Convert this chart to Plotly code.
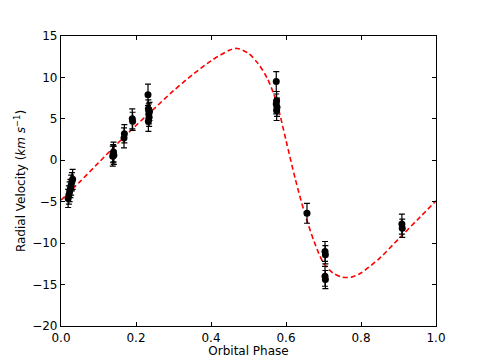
import plotly.graph_objects as go

# Observed radial velocities (km/s) folded on orbital phase
phase = [0.019, 0.021, 0.023, 0.025, 0.027, 0.029, 0.031,
         0.138, 0.139, 0.140, 0.141,
         0.168, 0.169,
         0.190, 0.191,
         0.232, 0.233, 0.234, 0.235, 0.233, 0.236,
         0.574, 0.575, 0.574, 0.576, 0.575,
         0.656,
         0.704, 0.705, 0.704, 0.705,
         0.909, 0.910]
rv = [-4.6, -4.2, -3.8, -3.4, -3.0, -2.6, -2.3,
      0.5, 0.8, 1.0, 0.6,
      2.7, 3.2,
      5.0, 4.7,
      7.9, 6.2, 5.6, 5.2, 4.7, 5.9,
      9.5, 7.2, 6.8, 6.4, 6.0,
      -6.4,
      -11.0, -11.4, -14.0, -14.4,
      -7.7, -8.2]
rv_err = [1.1, 1.1, 1.2, 1.1, 1.2, 1.1, 1.2,
          1.2, 1.1, 1.2, 1.1,
          1.2, 1.1,
          1.2, 1.1,
          1.3, 1.1, 1.2, 1.1, 1.2, 1.1,
          1.2, 1.1, 1.2, 1.1, 1.2,
          1.2,
          1.2, 1.1, 1.2, 1.1,
          1.2, 1.1]

# Orbit model curve
model_phase = [0.00, 0.05, 0.10, 0.15, 0.20, 0.25, 0.30, 0.35, 0.40, 0.45,
               0.47, 0.50, 0.525, 0.55, 0.575, 0.60, 0.625, 0.65, 0.675,
               0.70, 0.725, 0.75, 0.775, 0.80, 0.85, 0.90, 0.95, 1.00]
model_rv = [-4.8, -2.6, -0.3, 2.0, 4.2, 6.3, 8.4, 10.3, 12.0, 13.3,
            13.5, 12.9, 11.7, 9.9, 7.0, 2.4, -2.3, -6.4, -9.8,
            -12.4, -13.6, -14.1, -14.1, -13.6, -11.8, -9.5, -7.2, -4.9]

x_ticks = [0.0, 0.2, 0.4, 0.6, 0.8, 1.0]
y_ticks = [15, 10, 5, 0, -5, -10, -15, -20]

fig = go.Figure()

fig.add_trace(go.Scatter(
    x=model_phase, y=model_rv,
    mode='lines',
    line=dict(color='red', width=1.6, dash='5px,3px', shape='spline', smoothing=0.8),
    hoverinfo='skip'
))

fig.add_trace(go.Scatter(
    x=phase, y=rv,
    mode='markers',
    marker=dict(color='black', size=7),
    error_y=dict(type='data', array=rv_err, color='black', thickness=1.2, width=3)
))

axis_style = dict(
    showline=True, linecolor='black', linewidth=1.2, mirror='ticks',
    ticks='inside', ticklen=4, tickwidth=1, tickcolor='black',
    showgrid=False, zeroline=False,
    tickfont=dict(family='DejaVu Sans', size=12, color='black'),
)

# the page body adds an 8px offset, so margins are shifted to compensate
fig.update_layout(
    width=485, height=363,
    margin=dict(l=53, r=57, t=28, b=45),
    plot_bgcolor='white', paper_bgcolor='white',
    showlegend=False,
    font=dict(family='DejaVu Sans', size=12, color='black'),
    xaxis=dict(axis_style, range=[0, 1], tickvals=x_ticks,
               ticktext=['%.1f' % t for t in x_ticks],
               title=dict(text='Orbital Phase', standoff=0, font=dict(size=12))),
    yaxis=dict(axis_style, range=[-20, 15], tickvals=y_ticks,
               title=dict(text='Radial Velocity (<i>km s</i><sup>−1</sup>)',
                          standoff=3, font=dict(size=12))),
)

fig.write_html("out.html")
